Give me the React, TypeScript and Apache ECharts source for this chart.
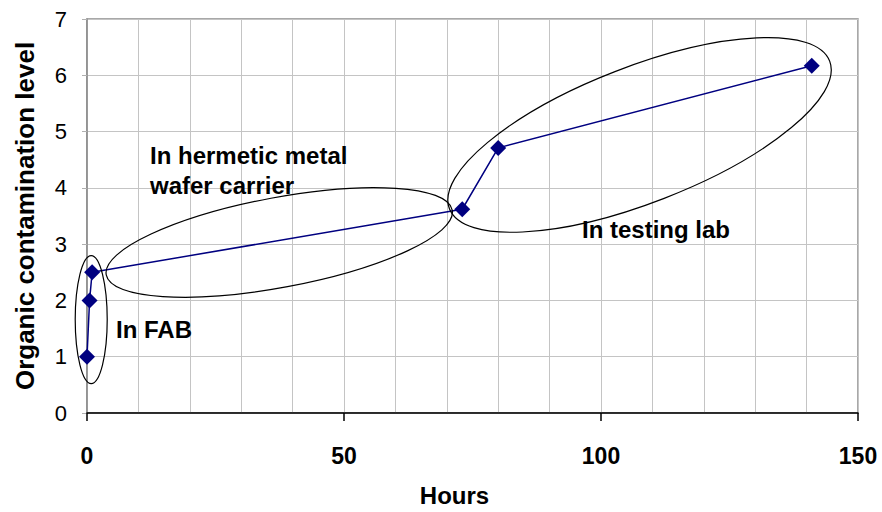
import React, { useEffect, useRef } from "react";
import * as echarts from "echarts";

const hours = [0, 0.5, 1, 73, 80, 141];
const contamination = [1, 2, 2.5, 3.62, 4.71, 6.17];
const xTicks = [0, 50, 100, 150];
const yTicks = [0, 1, 2, 3, 4, 5, 6, 7];

// Annotation groups (centre in data units)
const groupNames = ["In FAB", "In hermetic metal\nwafer carrier", "In testing lab"];
const groupCentreX = [0.82, 37.4, 107.5];
const groupCentreY = [1.66, 3.03, 4.94];

const FONT = "'Liberation Sans', Arial, Helvetica, sans-serif";

export default function App() {
  const ref = useRef<HTMLDivElement>(null);
  useEffect(() => {
    if (!ref.current) return;
    const chart = echarts.init(ref.current, null, { renderer: "svg" });
    const option: any = {
      animation: false,
      backgroundColor: "#ffffff",
      textStyle: { fontFamily: FONT },
      grid: {
        left: 87,
        right: 24,
        top: 19,
        bottom: 97,
        show: true,
        borderColor: "#8c8c8c",
        borderWidth: 1.5,
        backgroundColor: "transparent",
      },
      xAxis: {
        type: "value",
        min: xTicks[0],
        max: xTicks[xTicks.length - 1],
        interval: 50,
        name: "Hours",
        nameLocation: "middle",
        nameGap: 70,
        nameTextStyle: {
          fontFamily: FONT,
          fontSize: 24,
          fontWeight: "bold",
          color: "#000",
          padding: [0, 36, 0, 0],
        },
        axisLine: { show: true, lineStyle: { color: "#000", width: 1.5 } },
        axisTick: { show: true, inside: false, length: 8, lineStyle: { color: "#000", width: 1.5 } },
        axisLabel: {
          fontFamily: FONT,
          fontSize: 23,
          fontWeight: "bold",
          color: "#000",
          margin: 31,
        },
        splitLine: { show: true, lineStyle: { color: "#c4c4c4", width: 1 } },
        minorTick: { show: false, splitNumber: 5 },
        minorSplitLine: { show: true, lineStyle: { color: "#c4c4c4", width: 1 } },
      },
      yAxis: {
        type: "value",
        min: yTicks[0],
        max: yTicks[yTicks.length - 1],
        interval: 1,
        name: "Organic contamination level",
        nameLocation: "middle",
        nameGap: 49,
        nameTextStyle: { fontFamily: FONT, fontSize: 26, fontWeight: "bold", color: "#000" },
        axisLine: { show: true, lineStyle: { color: "#8c8c8c", width: 1.5 } },
        axisTick: { show: true, inside: false, length: 5, lineStyle: { color: "#b0b0b0", width: 1 } },
        axisLabel: { fontFamily: FONT, fontSize: 22, color: "#000", margin: 20 },
        splitLine: { show: true, lineStyle: { color: "#c4c4c4", width: 1 } },
      },
      series: [
        {
          type: "line",
          data: hours.map((h, i) => [h, contamination[i]]),
          symbol: "diamond",
          symbolSize: 16,
          color: "#000080",
          itemStyle: { color: "#000080" },
          lineStyle: { color: "#000080", width: 1.5 },
          z: 3,
        },
      ],
    };
    chart.setOption(option);

    const ellipseRx = [16, 176, 204];
    const ellipseRy = [64, 45, 68];
    const ellipseRot = [0, 10.6, 21.25];
    const centres = groupCentreX.map((x, i) =>
      chart.convertToPixel({ gridIndex: 0 }, [x, groupCentreY[i]]) as number[]
    );
    const ellipses = centres.map((c, i) => ({
      type: "ellipse",
      x: c[0],
      y: c[1],
      rotation: (ellipseRot[i] * Math.PI) / 180,
      shape: { cx: 0, cy: 0, rx: ellipseRx[i], ry: ellipseRy[i] },
      style: { fill: "none", stroke: "#000", lineWidth: 1.2 },
      z: 10,
    }));
    const textPos = [
      [116, 329],
      [150, 170],
      [582, 229.5],
    ];
    const texts = groupNames.map((t, i) => ({
      type: "text",
      x: textPos[i][0],
      y: textPos[i][1],
      style: {
        text: t,
        fontFamily: FONT,
        fontSize: 24,
        fontWeight: "bold",
        fill: "#000",
        align: "left",
        verticalAlign: "middle",
        lineHeight: 30,
      },
      z: 11,
    }));
    chart.setOption({ graphic: [...ellipses, ...texts] });
    return () => chart.dispose();
  }, []);
  return (
    <div
      ref={ref}
      style={{ position: "fixed", left: 0, top: 0, width: 882, height: 512 }}
    />
  );
}
